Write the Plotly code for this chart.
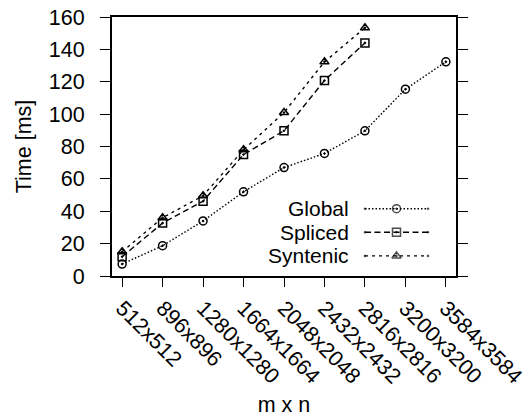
import plotly.graph_objects as go

# ---- data ----
categories = ["512x512", "896x896", "1280x1280", "1664x1664", "2048x2048",
              "2432x2432", "2816x2816", "3200x3200", "3584x3584"]
global_ms = [7.4, 18.7, 34.0, 52.0, 67.0, 75.7, 89.7, 115.4, 132.3]
spliced_ms = [11.9, 32.7, 46.2, 75.0, 89.7, 120.8, 144.0]
syntenic_ms = [15.0, 36.0, 49.6, 78.0, 101.0, 132.3, 153.3]

series_names = ["Global", "Spliced", "Syntenic"]
series_values = [global_ms, spliced_ms, syntenic_ms]
series_dash = ["1.5px,2px", "6px,3.5px", "3px,4px"]
series_symbol = ["circle-open-dot", "square-open-dot", "triangle-up-open-dot"]

FONT = "Liberation Sans, Arial, Helvetica, sans-serif"
FS = 21.5
W, H = 528, 417
ML, MR, MT, MB = 112, 72, 17, 141

fig = go.Figure()

for name, vals, dash, sym in zip(series_names, series_values, series_dash, series_symbol):
    fig.add_trace(go.Scatter(
        x=categories[:len(vals)], y=vals, name=name, mode="lines+markers",
        line=dict(color="black", width=1.4, dash=dash),
        marker=dict(symbol=sym, size=8, color="black", line=dict(width=1.5, color="black")),
        showlegend=False,
    ))

# ---- gnuplot-style key (text left, sample right), drawn on hidden pixel axes ----
key_rows_y = [208.7, 232.3, 255.9]
key_text_right = 351
key_line = (365, 428)
for name, dash, sym, ky in zip(series_names, series_dash, series_symbol, key_rows_y):
    fig.add_trace(go.Scatter(
        x=[key_line[0], (key_line[0] + key_line[1]) / 2, key_line[1]], y=[ky, ky, ky],
        xaxis="x2", yaxis="y2", mode="lines+markers", showlegend=False, hoverinfo="skip",
        line=dict(color="black", width=1.4, dash=dash),
        marker=dict(symbol=sym, size=[0, 8, 0], color="black", line=dict(width=1.5, color="black")),
    ))
    fig.add_annotation(x=key_text_right, y=ky, xref="x2", yref="y2", text=name,
                       showarrow=False, xanchor="right", yanchor="middle",
                       font=dict(family=FONT, size=21, color="black"))

fig.update_layout(
    width=W, height=H,
    margin=dict(l=ML, r=MR, t=MT, b=MB, pad=0, autoexpand=False),
    paper_bgcolor="white", plot_bgcolor="white",
    font=dict(family=FONT, size=FS, color="black"),
    xaxis=dict(
        type="category", range=[-0.25, 8.25], automargin=True,
        showgrid=False, zeroline=False,
        showline=True, linecolor="black", linewidth=2, mirror=True,
        ticks="outside", ticklen=9, tickwidth=1.4, tickcolor="black",
        tickangle=45, tickfont=dict(size=FS), ticklabelstandoff=0,
        ticklabeloverflow="allow",
        title=dict(text="m x n", font=dict(size=FS), standoff=13),
    ),
    yaxis=dict(
        range=[0, 160], dtick=20, automargin=True,
        showgrid=False, zeroline=False,
        showline=True, linecolor="black", linewidth=2, mirror="ticks",
        ticks="outside", ticklen=10, tickwidth=1.4, tickcolor="black",
        tickfont=dict(size=FS), ticklabelstandoff=11,
        ticklabeloverflow="allow",
        title=dict(text="Time [ms]", font=dict(size=FS), standoff=11),
    ),
    xaxis2=dict(overlaying="x", range=[ML, W - MR], visible=False, fixedrange=True),
    yaxis2=dict(overlaying="y", range=[H - MB, MT], visible=False, fixedrange=True),
)

# remove the default 8px page margin so the 528x417 figure fills the window exactly
fig.write_html("out.html", config={"displayModeBar": False},
               post_script="document.body.style.margin='0px';")
